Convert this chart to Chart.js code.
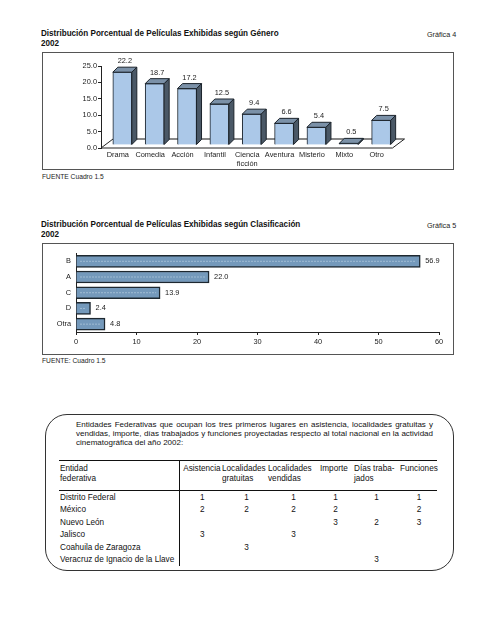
<!DOCTYPE html>
<html>
<head>
<meta charset="utf-8">
<script src="https://cdn.jsdelivr.net/npm/chart.js@4"></script>
<style>
  body { margin: 0; background: #fff; font-family: "Liberation Sans", Arial, sans-serif; color: #111; }
  .page { position: relative; width: 495px; height: 640px; }
  .ttl { position: absolute; left: 41px; font-weight: bold; font-size: 9px; line-height: 9.6px;
         transform: scaleX(0.9); transform-origin: left top; white-space: nowrap; }
  .graf { position: absolute; left: 427px; font-size: 7.2px; color: #222; }
  .src { position: absolute; left: 42px; font-size: 6.7px; color: #222; }
  .frame { position: absolute; left: 42px; width: 410px; border: 1.5px solid #555; }
  .frame canvas { display: block; }
  .note { position: absolute; left: 45px; top: 414px; width: 407px; height: 155px;
          border: 1.2px solid #333; border-radius: 22px; }
  .para { position: absolute; left: 30px; top: 6px; width: 357px; font-size: 8px; line-height: 8.8px;
          text-align: justify; text-align-last: left; }
  table { position: absolute; left: 13px; top: 45px; width: 378px; border-collapse: collapse;
          font-size: 8.2px; table-layout: fixed; }
  th, td { padding: 0; font-weight: normal; white-space: nowrap; }
  thead tr { border-top: 1.2px solid #111; border-bottom: 1.2px solid #111; }
  th { text-align: left; vertical-align: top; height: 26px; line-height: 9.5px; padding-top: 3px; }
  td { height: 12.5px; text-align: center; padding-left: 3px; }
  td:first-child, th:first-child { text-align: left; border-right: 1.2px solid #111; padding-left: 1px; }
</style>
</head>
<body>
<div class="page">
  <div class="ttl" style="top:29px">Distribución Porcentual de Películas Exhibidas según Género<br>2002</div>
  <div class="graf" style="top:30px">Gráfica 4</div>
  <div class="frame" style="top:52px;height:116px"><canvas id="genero" width="410" height="116"></canvas></div>
  <div class="src" style="top:173px">FUENTE Cuadro 1.5</div>

  <div class="ttl" style="top:220px">Distribución Porcentual de Películas Exhibidas según Clasificación<br>2002</div>
  <div class="graf" style="top:221px">Gráfica 5</div>
  <div class="frame" style="top:243px;height:110px"><canvas id="clasif" width="410" height="110"></canvas></div>
  <div class="src" style="top:357px">FUENTE: Cuadro 1.5</div>

  <div class="note">
    <div class="para">Entidades Federativas que ocupan los tres primeros lugares en asistencia, localidades gratuitas y vendidas, importe, días trabajados y funciones proyectadas respecto al total nacional en la actividad cinematográfica del año 2002:</div>
    <table id="tabla"></table>
  </div>
</div>

<script>
// ── DATA ──
const generos = ['Drama', 'Comedia', 'Acción', 'Infantil', ['Ciencia', 'ficción'], 'Aventura', 'Misterio', 'Mixto', 'Otro'];
const generoPct = [22.2, 18.7, 17.2, 12.5, 9.4, 6.6, 5.4, 0.5, 7.5];
const generoTicks = [0, 5, 10, 15, 20, 25];

const clasificaciones = ['B', 'A', 'C', 'D', 'Otra'];
const clasifPct = [56.9, 22.0, 13.9, 2.4, 4.8];
const clasifTicks = [0, 10, 20, 30, 40, 50, 60];

const tablaCols = [['Entidad', 'federativa'], ['Asistencia'], ['Localidades', 'gratuitas'], ['Localidades', 'vendidas'], ['Importe'], ['Días traba-', 'jados'], ['Funciones']];
const entidades = ['Distrito Federal', 'México', 'Nuevo León', 'Jalisco', 'Coahuila de Zaragoza', 'Veracruz de Ignacio de la Llave'];
const asistencia   = [1, 2, '', 3, '', ''];
const locGratuitas = [1, 2, '', '', 3, ''];
const locVendidas  = [1, 2, '', 3, '', ''];
const importe      = [1, 2, 3, '', '', ''];
const diasTrab     = [1, '', 2, '', '', 3];
const funciones    = [1, 2, 3, '', '', ''];

const FONT = '"Liberation Sans", Arial, sans-serif';

// ── 3D BARS (Gráfica 4) ──
const DEPTH = 5, SHIFT_X = 4.5, SHIFT_Y = -3;
const bars3d = {
  id: 'bars3d',
  beforeDatasetsDraw(chart) {
    const { ctx, chartArea: a, scales: { y } } = chart;
    const y0 = y.getPixelForValue(0);
    // floor
    ctx.save();
    ctx.fillStyle = '#fff';
    ctx.beginPath();
    ctx.moveTo(a.left, y0);
    ctx.lineTo(a.right, y0);
    ctx.lineTo(a.right + 12, y0 - 9);
    ctx.lineTo(a.left + 12, y0 - 9);
    ctx.closePath();
    ctx.fill();
    ctx.strokeStyle = '#888';
    ctx.lineWidth = 2;
    ctx.beginPath();
    ctx.moveTo(a.left + 12, y0 - 9);
    ctx.lineTo(a.right + 12, y0 - 9);
    ctx.stroke();
    ctx.strokeStyle = '#222';
    ctx.lineWidth = 1;
    ctx.beginPath();
    ctx.moveTo(a.left + 12, y0 - 9);
    ctx.lineTo(a.left, y0);
    ctx.lineTo(a.right, y0);
    ctx.lineTo(a.right + 12, y0 - 9);
    ctx.stroke();
    ctx.restore();
    ctx.save();
    ctx.translate(SHIFT_X, SHIFT_Y);
  },
  afterDatasetsDraw(chart) {
    const { ctx } = chart;
    const meta = chart.getDatasetMeta(0);
    meta.data.forEach((bar, i) => {
      const l = bar.x - bar.width / 2, r = bar.x + bar.width / 2;
      const t = bar.y, b = bar.base;
      ctx.lineWidth = 1;
      ctx.strokeStyle = '#1c242c';
      // top face
      ctx.fillStyle = '#7b91a8';
      ctx.beginPath();
      ctx.moveTo(l, t); ctx.lineTo(l + DEPTH, t - DEPTH);
      ctx.lineTo(r + DEPTH, t - DEPTH); ctx.lineTo(r, t); ctx.closePath();
      ctx.fill(); ctx.stroke();
      // side face
      ctx.fillStyle = '#4a5866';
      ctx.beginPath();
      ctx.moveTo(r, t); ctx.lineTo(r + DEPTH, t - DEPTH);
      ctx.lineTo(r + DEPTH, b - DEPTH); ctx.lineTo(r, b); ctx.closePath();
      ctx.fill(); ctx.stroke();
      // value label
      ctx.fillStyle = '#222';
      ctx.font = '7.4px ' + FONT;
      ctx.textAlign = 'center';
      ctx.textBaseline = 'middle';
      ctx.fillText(generoPct[i].toFixed(1), bar.x + DEPTH / 2, t - DEPTH - 6);
    });
    ctx.restore();
  }
};

new Chart(document.getElementById('genero'), {
  type: 'bar',
  data: {
    datasets: [{
      data: generoPct.map((v, i) => ({ x: i, y: v })),
      backgroundColor: '#abc8e8',
      borderColor: '#1c242c',
      borderWidth: 1,
      barThickness: 19
    }]
  },
  options: {
    responsive: false,
    animation: false,
    layout: { padding: { top: 13, right: 60.5, left: 0, bottom: 0 } },
    plugins: { legend: { display: false }, tooltip: { enabled: false } },
    scales: {
      x: {
        type: 'linear', min: -0.52, max: 8.49, offset: false,
        afterBuildTicks: s => { s.ticks = generos.map((g, i) => ({ value: i })); },
        afterFit: s => { s.height = 21; },
        grid: { display: false, drawTicks: false },
        border: { display: false },
        ticks: { autoSkip: false, maxRotation: 0, padding: 3,
                 color: '#222', font: { family: FONT, size: 7.4 },
                 callback: (v) => generos[v] }
      },
      y: {
        min: 0, max: 25,
        afterBuildTicks: s => { s.ticks = generoTicks.map(v => ({ value: v })); },
        afterFit: s => { s.width = 58; },
        grid: { drawOnChartArea: false, tickLength: 3, color: '#222' },
        border: { color: '#222' },
        ticks: { padding: 1, color: '#222', font: { family: FONT, size: 7.4 },
                 callback: v => v.toFixed(1) }
      }
    }
  },
  plugins: [bars3d]
});

// ── DOTTED BARS (Gráfica 5) ──
const barDots = {
  id: 'barDots',
  afterDatasetsDraw(chart) {
    const { ctx } = chart;
    chart.getDatasetMeta(0).data.forEach((bar, i) => {
      ctx.save();
      ctx.strokeStyle = 'rgba(220,235,245,0.85)';
      ctx.lineWidth = 1;
      ctx.setLineDash([1, 2]);
      ctx.beginPath();
      ctx.moveTo(bar.base + 4, bar.y);
      ctx.lineTo(bar.x - 4, bar.y);
      ctx.stroke();
      ctx.restore();
      ctx.fillStyle = '#222';
      ctx.font = '7.4px ' + FONT;
      ctx.textBaseline = 'middle';
      ctx.fillText(clasifPct[i].toFixed(1), bar.x + 5, bar.y);
    });
  }
};

new Chart(document.getElementById('clasif'), {
  type: 'bar',
  data: {
    labels: clasificaciones,
    datasets: [{
      data: clasifPct,
      backgroundColor: '#7499bb',
      borderColor: '#1e2830',
      borderWidth: 1.5,
      barThickness: 12
    }]
  },
  options: {
    indexAxis: 'y',
    responsive: false,
    animation: false,
    layout: { padding: { top: 5, right: 14, left: 0, bottom: 0 } },
    plugins: { legend: { display: false }, tooltip: { enabled: false } },
    scales: {
      x: {
        min: 0, max: 60,
        afterBuildTicks: s => { s.ticks = clasifTicks.map(v => ({ value: v })); },
        afterFit: s => { s.height = 22; },
        grid: { drawOnChartArea: false, tickLength: 3, color: '#222' },
        border: { color: '#222' },
        ticks: { padding: 3, color: '#222', font: { family: FONT, size: 7.4 } }
      },
      y: {
        afterFit: s => { s.width = 33; },
        grid: { display: false, drawTicks: false },
        border: { color: '#222' },
        ticks: { padding: 5, color: '#222', font: { family: FONT, size: 7.4 } }
      }
    }
  },
  plugins: [barDots]
});

// ── TABLA ──
const tabla = document.getElementById('tabla');
const cols = [asistencia, locGratuitas, locVendidas, importe, diasTrab, funciones];
const colW = [120, 43, 46, 48, 36, 46, 39];
const headPad = [1, 3.7, 0, 0, 4, 2, 2];
let html = '<colgroup>' + colW.map(w => '<col style="width:' + w + 'px">').join('') + '</colgroup>';
html += '<thead><tr>' + tablaCols.map((c, i) => '<th style="padding-left:' + headPad[i] + 'px">' + c.join('<br>') + '</th>').join('') + '</tr></thead><tbody>';
entidades.forEach((e, r) => {
  html += '<tr><td>' + e + '</td>' + cols.map(c => '<td>' + c[r] + '</td>').join('') + '</tr>';
});
tabla.innerHTML = html + '</tbody>';
</script>
</body>
</html>
